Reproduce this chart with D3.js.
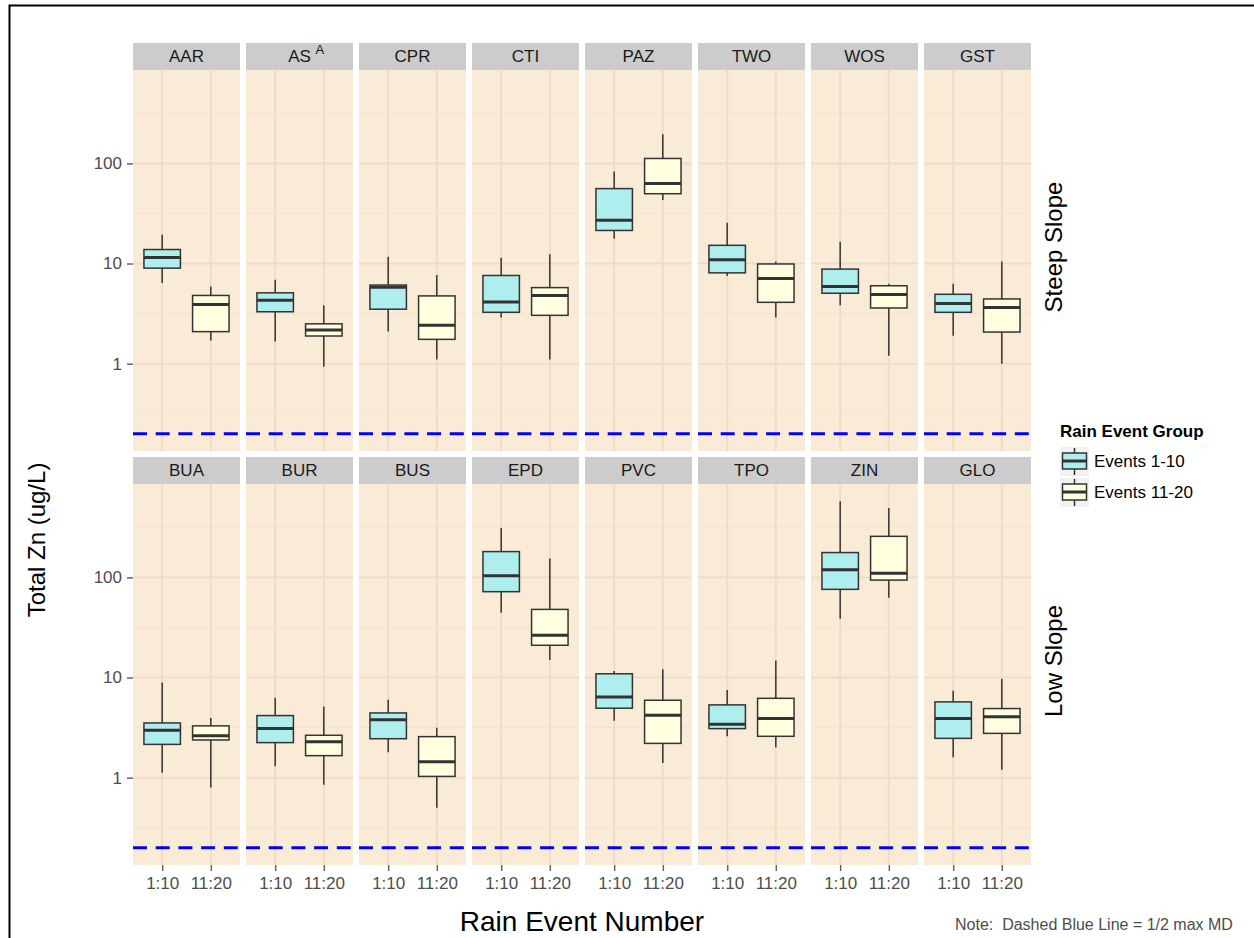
<!DOCTYPE html>
<html>
<head>
<meta charset="utf-8">
<script src="https://cdn.jsdelivr.net/npm/d3@7"></script>
<style>
  body { margin: 0; background: #fff; }
  text { font-family: "Liberation Sans", Arial, sans-serif; }
</style>
</head>
<body>
<div id="chart"></div>
<script>
var width = 1254,
    height = 938;

// facet rows and site names
var rows = ["Steep Slope", "Low Slope"];
var steepSites = ["AAR", "AS", "CPR", "CTI", "PAZ", "TWO", "WOS", "GST"];
var steepSup = ["", "A", "", "", "", "", "", ""];
var lowSites = ["BUA", "BUR", "BUS", "EPD", "PVC", "TPO", "ZIN", "GLO"];
var lowSup = ["", "", "", "", "", "", "", ""];

var groups = ["1:10", "11:20"];
var groupNames = ["Events 1-10", "Events 11-20"];
var groupFill = ["#AFEEEE", "#FFFFE0"];

// box summaries: [lower whisker, Q1, median, Q3, upper whisker], ug/L
var steepEarly = [
    [6.4, 9.0, 11.5, 13.8, 19.4],
    [1.67, 3.3, 4.3, 5.1, 6.9],
    [2.1, 3.5, 5.8, 6.1, 11.7],
    [2.9, 3.26, 4.14, 7.6, 11.4],
    [17.7, 21.4, 27, 56, 83],
    [7.5, 8.07, 10.9, 15.2, 25.5],
    [3.83, 5.05, 5.9, 8.8, 16.5],
    [1.9, 3.26, 4.0, 4.93, 6.3]
];
var steepLate = [
    [1.7, 2.09, 3.9, 4.8, 5.9],
    [0.93, 1.89, 2.17, 2.5, 3.83],
    [1.1, 1.75, 2.42, 4.75, 7.7],
    [1.1, 3.04, 4.8, 5.75, 12.4],
    [43, 49.8, 63, 112, 195],
    [2.9, 4.1, 7.08, 9.9, 10.5],
    [1.2, 3.6, 4.9, 6.0, 6.3],
    [1.0, 2.07, 3.63, 4.43, 10.5]
];
var lowEarly = [
    [1.12, 2.15, 2.97, 3.52, 8.9],
    [1.3, 2.24, 3.09, 4.17, 6.27],
    [1.79, 2.45, 3.78, 4.43, 6.0],
    [44.4, 72, 104, 181, 311],
    [3.7, 4.94, 6.4, 10.9, 11.6],
    [2.59, 3.09, 3.41, 5.33, 7.5],
    [38.6, 76, 119, 177, 575],
    [1.6, 2.47, 3.9, 5.71, 7.4]
];
var lowLate = [
    [0.8, 2.38, 2.63, 3.29, 3.95],
    [0.85, 1.66, 2.29, 2.65, 5.13],
    [0.5, 1.03, 1.44, 2.57, 3.16],
    [15, 21, 26.5, 47.9, 154],
    [1.4, 2.2, 4.2, 5.93, 12.1],
    [2.0, 2.59, 3.9, 6.2, 14.8],
    [62.7, 94, 110, 257, 493],
    [1.2, 2.77, 4.07, 4.9, 9.7]
];

var yTicks = [1, 10, 100];
var yMinor = [Math.pow(10, -0.5), Math.pow(10, 0.5), Math.pow(10, 1.5), Math.pow(10, 2.5)];
var halfMaxMDL = 0.2;

var panels = [];
[[steepSites, steepSup, steepEarly, steepLate], [lowSites, lowSup, lowEarly, lowLate]]
    .forEach(function (r, ri) {
        r[0].forEach(function (s, i) {
            panels.push({ row: ri, col: i, site: s, sup: r[1][i], boxes: [r[2][i], r[3][i]] });
        });
    });

var svg = d3.select("#chart")
    .append("svg")
    .attr("width", width)
    .attr("height", height)
    .style("display", "block");

// outer frame (cut off at right and bottom)
svg.append("path")
    .attr("d", "M9.5,940 L9.5,5.5 L1260,5.5")
    .attr("fill", "none")
    .attr("stroke", "#000")
    .attr("stroke-width", 2);

var stripH = 27;

var fx = d3.scaleBand().domain(d3.range(8)).range([133, 1031]).paddingInner(6 / 113);
var fy = d3.scaleBand().domain(d3.range(2)).range([43, 865]).paddingInner(6 / 414);
var panelH = fy.bandwidth() - stripH;

var x = d3.scalePoint().domain(groups).range([0, fx.bandwidth()]).padding(0.6);
var boxW = x.step() * 0.75;

var allVals = [halfMaxMDL];
panels.forEach(function (p) { p.boxes.forEach(function (b) { allVals = allVals.concat(b); }); });
var lo = Math.log10(d3.min(allVals)), hi = Math.log10(d3.max(allVals));
var pad = (hi - lo) * 0.05;
var y = d3.scaleLog()
    .domain([Math.pow(10, lo - pad), Math.pow(10, hi + pad)])
    .range([panelH, 0]);

var panel = svg.selectAll(".panel").data(panels).enter()
    .append("g")
    .attr("class", "panel")
    .attr("transform", function (d) {
        return "translate(" + fx(d.col) + "," + fy(d.row) + ")";
    });

// strip
panel.append("rect")
    .attr("width", fx.bandwidth())
    .attr("height", stripH)
    .attr("fill", "#CCCCCC");

panel.append("text")
    .attr("x", fx.bandwidth() / 2)
    .attr("y", stripH / 2)
    .attr("dy", "0.35em")
    .attr("text-anchor", "middle")
    .attr("font-size", 17)
    .attr("fill", "#1a1a1a")
    .text(function (d) { return d.site; });

panel.filter(function (d) { return d.sup; }).append("text")
    .attr("x", fx.bandwidth() / 2 + 16)
    .attr("y", 11)
    .attr("font-size", 13)
    .attr("fill", "#1a1a1a")
    .text(function (d) { return d.sup; });

var body = panel.append("g").attr("transform", "translate(0," + stripH + ")");

body.append("rect")
    .attr("width", fx.bandwidth())
    .attr("height", panelH)
    .attr("fill", "#FAEBD7");

body.selectAll(".minor").data(yMinor).enter()
    .append("line")
    .attr("x1", 0).attr("x2", fx.bandwidth())
    .attr("y1", function (d) { return y(d); })
    .attr("y2", function (d) { return y(d); })
    .attr("stroke", "#F3E3CE")
    .attr("stroke-width", 1);

body.selectAll(".major").data(yTicks).enter()
    .append("line")
    .attr("x1", 0).attr("x2", fx.bandwidth())
    .attr("y1", function (d) { return y(d); })
    .attr("y2", function (d) { return y(d); })
    .attr("stroke", "#EDDCC8")
    .attr("stroke-width", 2);

body.selectAll(".vgrid").data(groups).enter()
    .append("line")
    .attr("x1", function (d) { return x(d); })
    .attr("x2", function (d) { return x(d); })
    .attr("y1", 0).attr("y2", panelH)
    .attr("stroke", "#EDDCC8")
    .attr("stroke-width", 2);

// boxes
var box = body.selectAll(".box")
    .data(function (d) { return d.boxes.map(function (b, i) { return { g: i, s: b }; }); })
    .enter().append("g")
    .attr("transform", function (d) { return "translate(" + x(groups[d.g]) + ",0)"; });

box.append("line")
    .attr("y1", function (d) { return y(d.s[0]); })
    .attr("y2", function (d) { return y(d.s[4]); })
    .attr("stroke", "#333333")
    .attr("stroke-width", 1.5);

box.append("rect")
    .attr("x", -boxW / 2)
    .attr("width", boxW)
    .attr("y", function (d) { return y(d.s[3]); })
    .attr("height", function (d) { return y(d.s[1]) - y(d.s[3]); })
    .attr("fill", function (d) { return groupFill[d.g]; })
    .attr("stroke", "#333333")
    .attr("stroke-width", 1.5);

box.append("line")
    .attr("x1", -boxW / 2).attr("x2", boxW / 2)
    .attr("y1", function (d) { return y(d.s[2]); })
    .attr("y2", function (d) { return y(d.s[2]); })
    .attr("stroke", "#333333")
    .attr("stroke-width", 3);

// half max MDL line
body.append("line")
    .attr("x1", 0).attr("x2", fx.bandwidth())
    .attr("y1", y(halfMaxMDL)).attr("y2", y(halfMaxMDL))
    .attr("stroke", "#0000FF")
    .attr("stroke-width", 3)
    .attr("stroke-dasharray", "14,8.7");

// y axis on first column
var yAxisG = svg.selectAll(".yaxis").data(d3.range(2)).enter()
    .append("g")
    .attr("transform", function (r) { return "translate(" + fx(0) + "," + (fy(r) + stripH) + ")"; })
    .call(d3.axisLeft(y).tickValues(yTicks).tickFormat(d3.format("d")).tickSize(6).tickPadding(5));
yAxisG.select(".domain").remove();
yAxisG.selectAll(".tick line").attr("stroke", "#666").attr("stroke-width", 1.5);
yAxisG.selectAll(".tick text")
    .attr("font-size", 17)
    .attr("fill", "#4D4D4D")
    .style("font-family", "Liberation Sans, Arial, sans-serif");

// x axis on bottom row
var xAxisG = svg.selectAll(".xaxis").data(d3.range(8)).enter()
    .append("g")
    .attr("transform", function (c) { return "translate(" + fx(c) + "," + (fy(1) + fy.bandwidth()) + ")"; })
    .call(d3.axisBottom(x).tickSize(6).tickPadding(6));
xAxisG.select(".domain").remove();
xAxisG.selectAll(".tick line").attr("stroke", "#666").attr("stroke-width", 1.5);
xAxisG.selectAll(".tick text")
    .attr("font-size", 17)
    .attr("fill", "#4D4D4D")
    .style("font-family", "Liberation Sans, Arial, sans-serif");

// row strips on the right
svg.selectAll(".rowlab").data(rows).enter()
    .append("text")
    .attr("transform", function (d, i) {
        return "translate(1054," + (fy(i) + fy.bandwidth() / 2) + ") rotate(-90)";
    })
    .attr("text-anchor", "middle")
    .attr("dy", "0.35em")
    .attr("font-size", 24)
    .attr("fill", "#000")
    .text(function (d) { return d; });

// axis titles
svg.append("text")
    .attr("x", (fx.range()[0] + fx.range()[1]) / 2)
    .attr("y", 931)
    .attr("text-anchor", "middle")
    .attr("font-size", 28)
    .text("Rain Event Number");

svg.append("text")
    .attr("transform", "translate(45,540) rotate(-90)")
    .attr("text-anchor", "middle")
    .attr("font-size", 24)
    .text("Total Zn (ug/L)");

// note, clipped at the plot edge
svg.append("clipPath").attr("id", "noteclip")
    .append("rect").attr("x", 0).attr("y", 0).attr("width", 1233).attr("height", height);
svg.append("text")
    .attr("clip-path", "url(#noteclip)")
    .attr("x", 955)
    .attr("y", 930)
    .attr("font-size", 16)
    .attr("fill", "#4D4D4D")
    .attr("xml:space", "preserve")
    .style("white-space", "pre")
    .text("Note:  Dashed Blue Line = 1/2 max MDL");

// legend
var legend = svg.append("g").attr("transform", "translate(1060,437)");
legend.append("text")
    .attr("font-size", 17)
    .attr("font-weight", "bold")
    .text("Rain Event Group");

var key = legend.selectAll(".key").data(groupNames).enter()
    .append("g")
    .attr("transform", function (d, i) { return "translate(0," + (10 + i * 31) + ")"; });

key.append("rect").attr("width", 29).attr("height", 29).attr("fill", "#F2F2F2");
key.append("line")
    .attr("x1", 14.5).attr("x2", 14.5).attr("y1", 1).attr("y2", 28)
    .attr("stroke", "#333333").attr("stroke-width", 1.5);
key.append("rect")
    .attr("x", 2.5).attr("y", 6).attr("width", 24).attr("height", 16)
    .attr("fill", function (d, i) { return groupFill[i]; })
    .attr("stroke", "#333333").attr("stroke-width", 1.5);
key.append("line")
    .attr("x1", 2.5).attr("x2", 26.5).attr("y1", 14).attr("y2", 14)
    .attr("stroke", "#333333").attr("stroke-width", 3);
key.append("text")
    .attr("x", 34)
    .attr("y", 14.5)
    .attr("dy", "0.35em")
    .attr("font-size", 17)
    .text(function (d) { return d; });
</script>
</body>
</html>
